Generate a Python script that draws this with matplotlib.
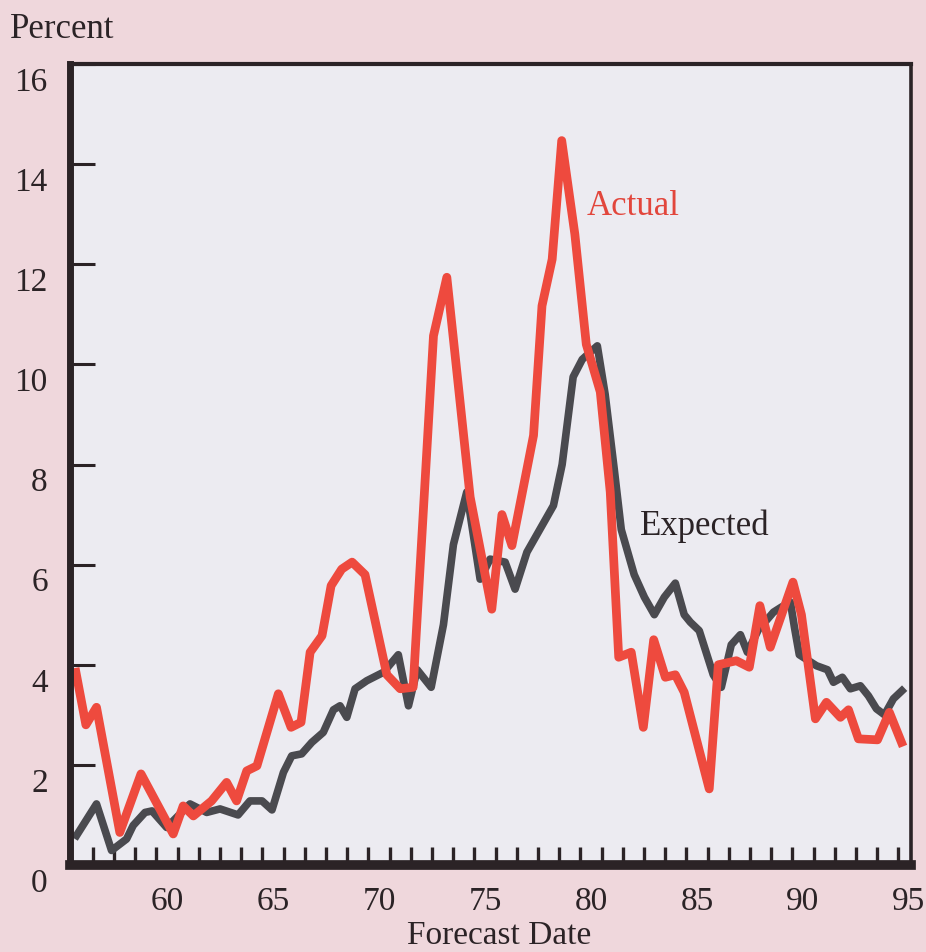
import numpy as np
import matplotlib.pyplot as plt
import matplotlib.transforms as mtransforms

plt.rcParams['font.family'] = ['Liberation Serif', 'DejaVu Serif']

# Actual inflation: line vertices (decimal year, percent)
actual_year = [1956.20, 1956.67, 1957.17, 1958.27, 1959.27, 1960.79, 1961.26, 1961.74,
               1962.60, 1963.31, 1963.78, 1964.26, 1964.74, 1965.75, 1966.35, 1966.82,
               1967.25, 1967.81, 1968.24, 1968.74, 1969.23, 1969.84, 1970.87, 1971.50,
               1972.11, 1973.07, 1973.70, 1974.80, 1975.82, 1976.30, 1976.77, 1977.79,
               1978.19, 1978.67, 1979.12, 1979.74, 1980.28, 1980.94, 1981.41, 1981.81,
               1982.40, 1982.97, 1983.46, 1984.01, 1984.48, 1984.90, 1986.08, 1986.51,
               1987.36, 1987.97, 1988.47, 1988.96, 1990.03, 1990.43, 1991.09, 1991.61,
               1992.27, 1992.65, 1993.12, 1994.02, 1994.58, 1995.15]
actual_pct = [3.85, 2.80, 3.15, 0.65, 1.82, 0.62, 1.18, 0.98,
              1.28, 1.65, 1.28, 1.88, 1.98, 3.42, 2.75, 2.85,
              4.25, 4.58, 5.58, 5.91, 6.05, 5.80, 3.80, 3.52,
              3.55, 10.57, 11.74, 7.35, 5.11, 7.00, 6.38, 8.58,
              11.17, 12.10, 14.47, 12.60, 10.40, 9.45, 7.45, 4.15,
              4.25, 2.75, 4.50, 3.75, 3.80, 3.45, 1.52, 4.00,
              4.08, 3.95, 5.18, 4.35, 5.65, 5.00, 2.92, 3.25,
              2.95, 3.10, 2.52, 2.50, 3.05, 2.45]

# Expected inflation (survey forecast)
expected_year = [1956.23, 1957.17, 1957.88, 1958.59, 1958.90, 1959.46, 1959.79, 1960.48,
                 1961.58, 1962.37, 1963.00, 1963.85, 1964.41, 1964.98, 1965.45, 1965.99,
                 1966.38, 1966.85, 1967.33, 1967.87, 1968.35, 1968.66, 1968.98, 1969.37,
                 1969.92, 1970.71, 1971.41, 1971.89, 1972.30, 1972.96, 1973.54, 1974.01,
                 1974.64, 1975.27, 1975.74, 1976.45, 1976.92, 1977.48, 1978.73, 1979.14,
                 1979.66, 1980.09, 1980.80, 1981.17, 1981.60, 1981.93, 1982.54, 1983.02,
                 1983.49, 1983.96, 1984.48, 1984.90, 1985.19, 1985.61, 1986.27, 1986.65,
                 1987.12, 1987.55, 1987.88, 1988.40, 1989.11, 1989.48, 1989.91, 1990.10,
                 1990.33, 1991.14, 1991.66, 1991.94, 1992.36, 1992.74, 1993.21, 1993.59,
                 1993.97, 1994.35, 1994.77, 1995.17]
expected_pct = [0.59, 1.22, 0.29, 0.52, 0.79, 1.05, 1.08, 0.75,
                1.22, 1.05, 1.12, 1.00, 1.28, 1.28, 1.10, 1.85,
                2.18, 2.22, 2.45, 2.65, 3.10, 3.18, 2.95, 3.52,
                3.68, 3.85, 4.20, 3.18, 3.90, 3.55, 4.80, 6.40,
                7.45, 5.71, 6.11, 6.05, 5.51, 6.25, 7.18, 8.00,
                9.75, 10.10, 10.37, 9.40, 7.90, 6.70, 5.80, 5.35,
                5.00, 5.35, 5.63, 5.00, 4.85, 4.68, 3.80, 3.55,
                4.40, 4.60, 4.25, 4.70, 5.05, 5.15, 5.25, 4.75,
                4.20, 3.98, 3.90, 3.65, 3.75, 3.52, 3.58, 3.38,
                3.12, 3.00, 3.32, 3.48]

year_marks = list(range(1957, 1996))
label_pos = [1960.5, 1965.5, 1970.5, 1975.5, 1980.5, 1985.5, 1990.5, 1995.5]
label_text = ['60', '65', '70', '75', '80', '85', '90', '95']
pct_ticks = [0, 2, 4, 6, 8, 10, 12, 14, 16]

pink = '#efd7dc'
panel = '#ecebf1'
ink = '#2b2326'
red = '#ee4a3e'
grey = '#4a4a4f'

fig = plt.figure(figsize=(9.26, 9.53), dpi=100, facecolor=pink)
ax = fig.add_axes([70 / 926, 87 / 953, 841 / 926, 801 / 953])
ax.set_facecolor(panel)

ax.plot(expected_year, expected_pct, color=grey, lw=5.5, solid_joinstyle='round')
ax.plot(actual_year, actual_pct, color=red, lw=6.3, solid_joinstyle='round')

ax.set_xlim(1955.92, 1995.6)
ax.set_ylim(0, 16)

# every year gets an inward mark, the labels sit mid-year
ax.set_xticks(year_marks, minor=True)
ax.set_xticks(label_pos)
ax.set_xticklabels(label_text)
ax.tick_params(axis='x', which='minor', direction='in', length=13, width=2.4, color=ink)
ax.tick_params(axis='x', which='major', length=0, pad=15, labelsize=24, labelcolor=ink)

ax.set_yticks(pct_ticks)
ax.set_yticklabels([str(v) for v in pct_ticks])
ax.tick_params(axis='y', direction='in', length=18, width=2.2, color=ink,
               pad=16, labelsize=24, labelcolor=ink)
# the printed y labels sit a little below their marks
shift = mtransforms.ScaledTranslation(0, -0.14, fig.dpi_scale_trans)
for lab in ax.get_yticklabels():
    lab.set_transform(lab.get_transform() + shift)

for side, w in [('left', 5.0), ('bottom', 7.0), ('top', 3.0), ('right', 2.6)]:
    ax.spines[side].set_linewidth(w)
    ax.spines[side].set_color(ink)

ax.text(1980.28, 13.0, 'Actual', color='#e2463c', fontsize=25, va='baseline', ha='left')
ax.text(1982.83, 6.61, 'Expected', color=ink, fontsize=25, va='baseline', ha='left')

fig.text(10 / 926, 1 - 30 / 953, 'Percent', fontsize=25, color=ink, va='center', ha='left')
fig.text(499 / 926, 1 - 944 / 953, 'Forecast Date', fontsize=24, color=ink,
         va='baseline', ha='center')

fig.savefig('out.png', dpi=100, facecolor=fig.get_facecolor())
